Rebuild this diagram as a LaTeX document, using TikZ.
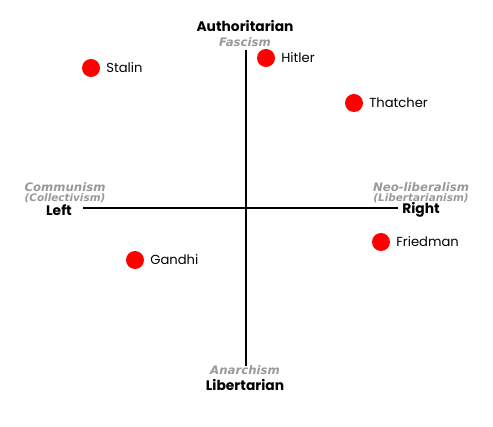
\documentclass[tikz,border=0pt]{standalone}
\usepackage{fontspec}
\setmainfont{DejaVu Sans}
\newfontfamily\namefont{Poppins}
\usepackage{xcolor}
\usetikzlibrary{positioning}
\definecolor{ismgray}{RGB}{153,153,153}

\begin{document}
\begin{tikzpicture}[
    x=0.03cm, y=-0.03cm,
    axis/.style={draw, line width=1.7pt},
    pole/.style={font=\namefont\fontsize{11.8}{13}\selectfont\bfseries, inner sep=0pt},
    ism/.style={font=\fontsize{10}{11}\selectfont\bfseries\itshape, text=ismgray, inner sep=0pt},
    subism/.style={font=\fontsize{8.9}{10}\selectfont\bfseries\itshape, text=ismgray, inner sep=0pt},
    leader/.style={circle, fill=red, minimum size=0.54cm, inner sep=0pt},
    who/.style={font=\namefont\fontsize{11.2}{13}\selectfont, inner sep=0pt}
]
\useasboundingbox (0,0) rectangle (493,427);

% axes
\coordinate (top)    at (246,50);
\coordinate (bottom) at (246,366);
\coordinate (left)   at (83,208);
\coordinate (right)  at (398,208);
\draw[axis] (top) -- (bottom);
\draw[axis] (left) -- (right);

% poles
\node[pole] (auth)  at (245,26)  {Authoritarian};
\node[ism]  (fasc)  at (245,42)  {Fascism};
\node[pole] (lib)   at (245,385) {Libertarian};
\node[ism]  (anar)  at (245,370) {Anarchism};
\node[pole] (lft)   at (59,210)  {Left};
\node[ism]  (comm)  at (65,187)  {Communism};
\node[subism] (coll) at (65,198) {(Collectivism)};
\node[pole] (rgt)   at (421,210) {Right};
\node[ism]  (neo)   at (421,187) {Neo-liberalism};
\node[subism] (libt) at (421,198) {(Libertarianism)};

% leaders
\node[leader] (stalin)   at (91,68)   {};
\node[who, right=5pt of stalin]   (stalinlbl)   {Stalin};
\node[leader] (hitler)   at (266,58)  {};
\node[who, right=5pt of hitler]   (hitlerlbl)   {Hitler};
\node[leader] (thatcher) at (354,103) {};
\node[who, right=5pt of thatcher] (thatcherlbl) {Thatcher};
\node[leader] (friedman) at (381,242) {};
\node[who, right=5pt of friedman] (friedmanlbl) {Friedman};
\node[leader] (gandhi)   at (135,260) {};
\node[who, right=5pt of gandhi]   (gandhilbl)   {Gandhi};

\end{tikzpicture}
\end{document}
